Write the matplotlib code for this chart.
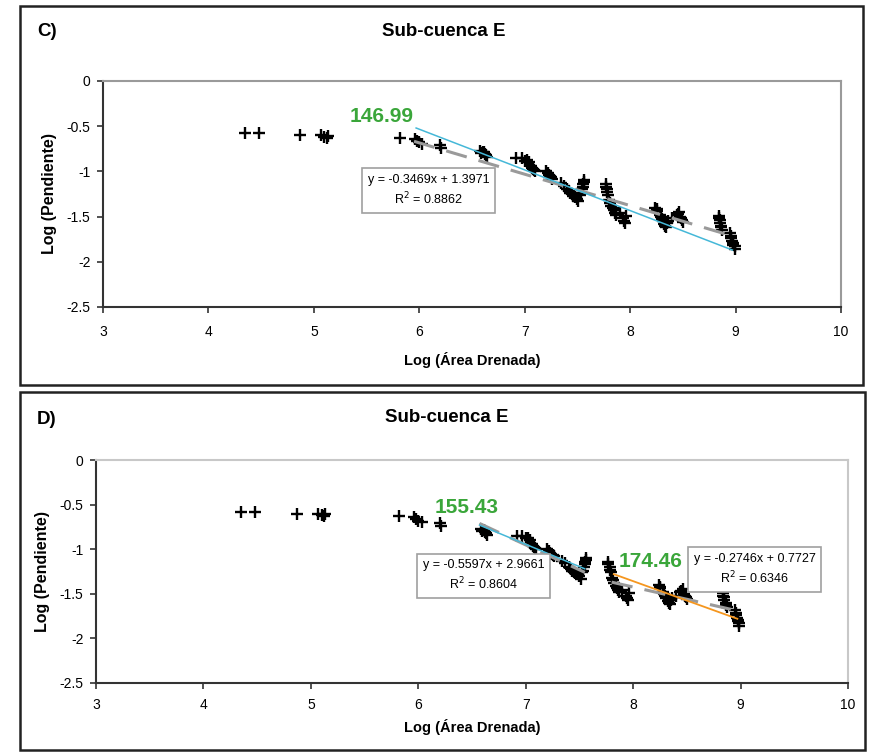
import matplotlib.pyplot as plt
from matplotlib.patches import Rectangle

plt.rcParams['font.family'] = ['Liberation Sans', 'DejaVu Sans']

# log(drained area) vs log(slope), same points in both panels
area = [4.35, 4.48, 4.87, 5.07, 5.10, 5.12, 5.13, 5.82, 5.96, 5.98,
        6.00, 6.03, 6.20, 6.21, 6.58, 6.60, 6.62, 6.64, 6.92, 6.97,
        7.02, 7.04, 7.06, 7.08, 7.10, 7.20, 7.22, 7.24, 7.26, 7.34,
        7.37, 7.40, 7.43, 7.46, 7.50, 7.52, 7.54, 7.55, 7.56, 7.77,
        7.78, 7.79, 7.80, 7.82, 7.85, 7.87, 7.90, 7.93, 7.95, 7.96,
        8.24, 8.25, 8.28, 8.30, 8.32, 8.34, 8.36, 8.40, 8.44, 8.46,
        8.48, 8.50, 8.84, 8.85, 8.86, 8.87, 8.95, 8.96, 8.98, 8.99,
        6.59, 6.61, 6.63, 7.00, 7.07, 7.09, 7.23, 7.25, 7.42, 7.45,
        7.48, 7.51, 7.53, 7.55, 7.56, 7.77, 7.78, 7.81, 7.84, 7.86,
        7.94, 8.25, 8.29, 8.31, 8.33, 8.35, 8.45, 8.47, 8.49, 8.84,
        8.85, 8.86, 8.96, 8.97, 8.98, 8.99]
slope = [-0.58, -0.58, -0.60, -0.60, -0.62, -0.63, -0.61, -0.63, -0.64, -0.66,
         -0.68, -0.70, -0.71, -0.74, -0.77, -0.79, -0.81, -0.84, -0.85, -0.85,
         -0.87, -0.90, -0.94, -0.97, -1.00, -1.00, -1.02, -1.05, -1.08, -1.13,
         -1.16, -1.20, -1.24, -1.27, -1.30, -1.26, -1.20, -1.14, -1.10, -1.14,
         -1.20, -1.26, -1.32, -1.38, -1.43, -1.48, -1.46, -1.52, -1.57, -1.49,
         -1.40, -1.44, -1.48, -1.53, -1.58, -1.61, -1.55, -1.52, -1.48, -1.45,
         -1.52, -1.56, -1.49, -1.54, -1.60, -1.65, -1.68, -1.74, -1.79, -1.83,
         -0.80, -0.78, -0.82, -0.88, -0.96, -0.99, -1.04, -1.06, -1.22, -1.25,
         -1.28, -1.33, -1.24, -1.17, -1.12, -1.17, -1.23, -1.35, -1.41, -1.46,
         -1.55, -1.42, -1.50, -1.55, -1.60, -1.57, -1.47, -1.50, -1.54, -1.52,
         -1.57, -1.62, -1.71, -1.77, -1.81, -1.86]

# panel C
c_line_x = [5.97, 8.97]
c_line_y = [-0.52, -1.87]
c_fit = (-0.3469, 1.3971, [5.95, 9.0])
# panel D
d_line1_x = [6.57, 7.55]
d_line1_y = [-0.73, -1.22]
d_line2_x = [7.82, 8.97]
d_line2_y = [-1.28, -1.78]
d_fit1 = (-0.5597, 2.9661, [6.57, 7.55])
d_fit2 = (-0.2746, 0.7727, [7.80, 9.0])

xticks = [3, 4, 5, 6, 7, 8, 9, 10]
yticks = [0, -0.5, -1, -1.5, -2, -2.5]
yticklabels = ['0', '-0.5', '-1', '-1.5', '-2', '-2.5']

GREEN = '#3aa63a'
BLUE = '#45b8d8'
ORANGE = '#f5961e'
GRAY = '#9a9a9a'

fig = plt.figure(figsize=(8.71, 7.52), dpi=100)

# panel frames
fig.patches.append(Rectangle((20 / 871, 1 - 385 / 752), 843 / 871, 379 / 752,
                             transform=fig.transFigure, fill=False,
                             edgecolor='#222222', linewidth=1.8))
fig.patches.append(Rectangle((20 / 871, 1 - 750 / 752), 845 / 871, 358 / 752,
                             transform=fig.transFigure, fill=False,
                             edgecolor='#222222', linewidth=1.8))


def setup(ax, border_color, xpad, xlabelpad):
    ax.set_xlim(3, 10)
    ax.set_ylim(-2.5, 0)
    ax.set_xticks(xticks)
    ax.set_yticks(yticks)
    ax.set_yticklabels(yticklabels)
    ax.tick_params(direction='out', length=4, width=1.2, labelsize=10,
                   color='#333333')
    ax.tick_params(axis='x', pad=xpad)
    ax.tick_params(axis='y', pad=5)
    for side in ['left', 'bottom']:
        ax.spines[side].set_color('#333333')
        ax.spines[side].set_linewidth(1.5)
    for side in ['top', 'right']:
        ax.spines[side].set_color(border_color)
        ax.spines[side].set_linewidth(1.5)
    ax.set_xlabel('Log (Área Drenada)', fontsize=10.5, fontweight='bold',
                  labelpad=xlabelpad)
    ax.set_ylabel('Log (Pendiente)', fontsize=11.5, fontweight='bold', labelpad=7)
    ax.scatter(area, slope, marker='+', s=65, color='black', linewidths=1.7, zorder=3)


def fit_line(ax, fit):
    m, b, xs = fit
    ax.plot(xs, [m * x + b for x in xs], color=GRAY, linewidth=2.2,
            dashes=(7, 4), zorder=4)


def eq_box(ax, x, y, text):
    ax.text(x, y, text, fontsize=9, ha='center', va='center', linespacing=1.35,
            bbox=dict(boxstyle='square,pad=0.45', facecolor='white',
                      edgecolor='#a0a0a0', linewidth=1.2), zorder=6)


def label(ax, x, y, text):
    ax.text(x, y, text, color=GREEN, fontsize=15, fontweight='bold',
            ha='center', va='center', zorder=7)


# ---- C ----
ax1 = fig.add_axes([103 / 871, 1 - 307 / 752, 738 / 871, 226 / 752])
setup(ax1, '#9a9a9a', 9, 9)
fit_line(ax1, c_fit)
ax1.plot(c_line_x, c_line_y, color=BLUE, linewidth=1.1, zorder=5)
label(ax1, 5.64, -0.39, '146.99')
eq_box(ax1, 6.09, -1.21, 'y = -0.3469x + 1.3971\nR$^2$ = 0.8862')
fig.text(37 / 871, 1 - 31 / 752, 'C)', fontsize=13.5, fontweight='bold',
         ha='left', va='center')
fig.text(444 / 871, 1 - 32 / 752, 'Sub-cuenca E', fontsize=13.5,
         fontweight='bold', ha='center', va='center')

# ---- D ----
ax2 = fig.add_axes([96 / 871, 1 - 683 / 752, 752 / 871, 223 / 752])
setup(ax2, '#c8c8c8', 7, 5)
fit_line(ax2, d_fit1)
fit_line(ax2, d_fit2)
ax2.plot(d_line1_x, d_line1_y, color=BLUE, linewidth=1.1, zorder=5)
ax2.plot(d_line2_x, d_line2_y, color=ORANGE, linewidth=1.3, zorder=5)
label(ax2, 6.45, -0.53, '155.43')
label(ax2, 8.16, -1.14, '174.46')
eq_box(ax2, 6.61, -1.30, 'y = -0.5597x + 2.9661\nR$^2$ = 0.8604')
eq_box(ax2, 9.13, -1.23, 'y = -0.2746x + 0.7727\nR$^2$ = 0.6346')
fig.text(37 / 871, 1 - 420 / 752, 'D)', fontsize=13.5, fontweight='bold',
         ha='left', va='center')
fig.text(447 / 871, 1 - 418 / 752, 'Sub-cuenca E', fontsize=13.5,
         fontweight='bold', ha='center', va='center')

plt.savefig('out.png', dpi=100)
